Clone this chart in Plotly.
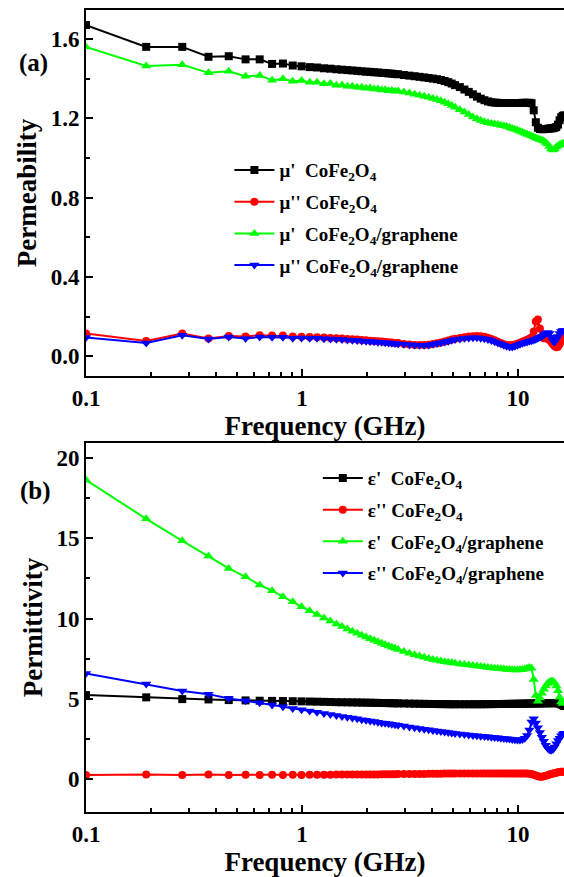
import plotly.graph_objects as go

# Frequency points (GHz)
freq = [0.1, 0.19, 0.279, 0.369, 0.458, 0.548, 0.637, 0.727, 0.816, 0.906, 0.995,
        1.085, 1.174, 1.264, 1.353, 1.443, 1.532, 1.622, 1.711, 1.801, 1.89, 1.98,
        2.069, 2.159, 2.248, 2.338, 2.427, 2.517, 2.606, 2.696, 2.785,
        2.964, 3.143, 3.322, 3.501, 3.68, 3.859, 4.038, 4.217, 4.396, 4.575, 4.754, 4.933, 5.112,
        5.381, 5.649, 5.918, 6.186, 6.455, 6.723, 6.992, 7.26, 7.529, 7.797, 8.066, 8.334,
        8.603, 8.871, 9.14, 9.408, 9.677, 9.945, 10.214, 10.482, 10.751, 11.019, 11.288,
        11.556, 11.825, 12.093, 12.362, 12.63, 12.899, 13.167, 13.436, 13.704, 13.973,
        14.241, 14.51, 14.778, 15.047, 15.315, 15.584, 15.852, 16.121, 16.389]

# (a) permeability
mu1_cfo = [1.67, 1.56, 1.56, 1.51, 1.513, 1.497, 1.497, 1.474, 1.476, 1.466, 1.462,
           1.458, 1.456, 1.452, 1.450, 1.447, 1.445, 1.443, 1.441, 1.439, 1.437, 1.435,
           1.434, 1.432, 1.431, 1.429, 1.428, 1.426, 1.425, 1.423, 1.422,
           1.418, 1.415, 1.412, 1.409, 1.406, 1.403, 1.400, 1.397, 1.393, 1.388, 1.382, 1.375, 1.367,
           1.357, 1.345, 1.333, 1.321, 1.309, 1.299, 1.291, 1.285, 1.281, 1.279, 1.278, 1.277,
           1.277, 1.277, 1.277, 1.277, 1.277, 1.277, 1.277, 1.278, 1.278, 1.278, 1.278,
           1.276, 1.24, 1.18, 1.152, 1.146, 1.145, 1.145, 1.146, 1.147, 1.148,
           1.149, 1.15, 1.152, 1.156, 1.168, 1.19, 1.205, 1.212, 1.215]
mu2_cfo = [0.114, 0.077, 0.114, 0.089, 0.102, 0.100, 0.106, 0.105, 0.104, 0.100, 0.098,
           0.097, 0.095, 0.094, 0.092, 0.090, 0.089, 0.087, 0.085, 0.084, 0.082, 0.080,
           0.078, 0.077, 0.075, 0.074, 0.072, 0.070, 0.069, 0.067, 0.066,
           0.062, 0.059, 0.057, 0.056, 0.056, 0.058, 0.061, 0.065, 0.069, 0.074, 0.079, 0.084, 0.088,
           0.092, 0.096, 0.099, 0.101, 0.102, 0.101, 0.098, 0.093, 0.087, 0.080, 0.073, 0.066,
           0.060, 0.056, 0.055, 0.056, 0.059, 0.063, 0.068, 0.073, 0.078, 0.083, 0.088,
           0.095, 0.125, 0.175, 0.185, 0.14, 0.10, 0.09, 0.09, 0.088, 0.082,
           0.072, 0.06, 0.05, 0.045, 0.048, 0.06, 0.075, 0.088, 0.095]
mu1_g = [1.56, 1.464, 1.47, 1.429, 1.437, 1.412, 1.416, 1.392, 1.399, 1.387, 1.39,
         1.381, 1.382, 1.374, 1.375, 1.367, 1.368, 1.361, 1.362, 1.356, 1.357, 1.351,
         1.352, 1.347, 1.348, 1.343, 1.344, 1.339, 1.340, 1.336, 1.337,
         1.332, 1.327, 1.321, 1.316, 1.311, 1.306, 1.300, 1.294, 1.288, 1.281, 1.273, 1.264, 1.255,
         1.243, 1.231, 1.219, 1.207, 1.197, 1.189, 1.183, 1.178, 1.174, 1.171, 1.168, 1.165,
         1.162, 1.158, 1.154, 1.149, 1.144, 1.139, 1.134, 1.129, 1.124, 1.119, 1.115,
         1.111, 1.106, 1.101, 1.097, 1.093, 1.089, 1.085, 1.078, 1.07, 1.058,
         1.045, 1.04, 1.045, 1.055, 1.062, 1.066, 1.07, 1.073, 1.075]
mu2_g = [0.094, 0.067, 0.106, 0.087, 0.097, 0.089, 0.097, 0.095, 0.095, 0.090, 0.092,
         0.091, 0.090, 0.088, 0.087, 0.085, 0.084, 0.082, 0.080, 0.079, 0.077, 0.076,
         0.074, 0.073, 0.071, 0.070, 0.068, 0.067, 0.065, 0.064, 0.062,
         0.060, 0.058, 0.056, 0.055, 0.055, 0.057, 0.060, 0.064, 0.068, 0.072, 0.076, 0.080, 0.084,
         0.087, 0.090, 0.092, 0.093, 0.093, 0.091, 0.088, 0.084, 0.079, 0.073, 0.067, 0.061,
         0.055, 0.050, 0.047, 0.047, 0.050, 0.055, 0.060, 0.065, 0.069, 0.072, 0.075,
         0.078, 0.082, 0.086, 0.090, 0.095, 0.10, 0.108, 0.115, 0.12, 0.115,
         0.095, 0.078, 0.072, 0.085, 0.10, 0.115, 0.125, 0.13, 0.13]

# (b) permittivity
eps1_cfo = [5.23, 5.09, 4.98, 4.96, 4.92, 4.90, 4.88, 4.87, 4.86, 4.85, 4.84,
            4.83, 4.82, 4.81, 4.80, 4.79, 4.785, 4.78, 4.775, 4.77, 4.765, 4.76,
            4.755, 4.75, 4.745, 4.74, 4.735, 4.73, 4.725, 4.72, 4.715,
            4.71, 4.70, 4.695, 4.69, 4.685, 4.68, 4.675, 4.67, 4.67, 4.665, 4.665, 4.66, 4.66,
            4.66, 4.66, 4.66, 4.66, 4.66, 4.66, 4.665, 4.665, 4.67, 4.67, 4.675, 4.675,
            4.68, 4.68, 4.685, 4.685, 4.69, 4.69, 4.695, 4.695, 4.70, 4.70, 4.705,
            4.705, 4.71, 4.71, 4.715, 4.715, 4.72, 4.72, 4.72, 4.725, 4.725,
            4.73, 4.73, 4.73, 4.73, 4.72, 4.70, 4.65, 4.60, 4.55]
eps2_cfo = [0.25, 0.29, 0.25, 0.29, 0.26, 0.27, 0.26, 0.27, 0.26, 0.27, 0.26,
            0.27, 0.27, 0.27, 0.27, 0.28, 0.28, 0.28, 0.28, 0.28, 0.29, 0.29,
            0.29, 0.29, 0.29, 0.30, 0.30, 0.30, 0.30, 0.30, 0.31,
            0.31, 0.31, 0.32, 0.32, 0.32, 0.33, 0.33, 0.33, 0.33, 0.34, 0.34, 0.34, 0.34,
            0.34, 0.35, 0.35, 0.35, 0.35, 0.35, 0.35, 0.35, 0.35, 0.35, 0.35, 0.35,
            0.35, 0.35, 0.35, 0.35, 0.35, 0.35, 0.35, 0.35, 0.35, 0.34, 0.33,
            0.31, 0.27, 0.22, 0.17, 0.15, 0.15, 0.17, 0.20, 0.24, 0.28,
            0.31, 0.34, 0.37, 0.40, 0.42, 0.44, 0.45, 0.45, 0.45]
eps1_g = [18.62, 16.21, 14.84, 13.89, 13.12, 12.6, 12.08, 11.73, 11.35, 11.04, 10.73,
          10.48, 10.25, 10.03, 9.84, 9.66, 9.5, 9.35, 9.21, 9.08, 8.96, 8.85,
          8.74, 8.64, 8.55, 8.46, 8.37, 8.29, 8.21, 8.14, 8.07,
          7.95, 7.84, 7.74, 7.66, 7.58, 7.51, 7.45, 7.40, 7.35, 7.31, 7.27, 7.24, 7.21,
          7.17, 7.13, 7.10, 7.07, 7.04, 7.01, 6.98, 6.95, 6.93, 6.91, 6.89, 6.87,
          6.85, 6.83, 6.82, 6.81, 6.80, 6.80, 6.81, 6.83, 6.86, 6.90, 6.95,
          6.9, 6.2, 5.2, 4.85, 5.05, 5.35, 5.6, 5.8, 5.95, 6.05,
          6.1, 6.1, 6.0, 5.8, 5.5, 5.1, 4.8, 4.7, 4.75]
eps2_g = [6.58, 5.92, 5.48, 5.29, 5.02, 4.88, 4.75, 4.61, 4.5, 4.4, 4.32,
          4.24, 4.16, 4.09, 4.02, 3.96, 3.9, 3.85, 3.8, 3.75, 3.7, 3.66,
          3.62, 3.58, 3.54, 3.5, 3.47, 3.44, 3.41, 3.38, 3.35,
          3.30, 3.25, 3.20, 3.15, 3.11, 3.07, 3.03, 2.99, 2.96, 2.93, 2.90, 2.87, 2.84,
          2.81, 2.78, 2.75, 2.72, 2.70, 2.67, 2.65, 2.63, 2.61, 2.59, 2.57, 2.55,
          2.53, 2.51, 2.49, 2.47, 2.45, 2.44, 2.44, 2.47, 2.55, 2.72, 3.05,
          3.55, 3.75, 3.5, 3.2, 2.9, 2.6, 2.35, 2.1, 1.92, 1.82,
          1.8, 1.85, 2.0, 2.2, 2.4, 2.55, 2.7, 2.8, 2.85]

SUB = "CoFe<sub>2</sub>O<sub>4</sub>"
names_a = ["μ'\u00a0\u00a0" + SUB, "μ''\u00a0" + SUB,
           "μ'\u00a0\u00a0" + SUB + "/graphene", "μ''\u00a0" + SUB + "/graphene"]
names_b = ["ε'\u00a0\u00a0" + SUB, "ε''\u00a0" + SUB,
           "ε'\u00a0\u00a0" + SUB + "/graphene", "ε''\u00a0" + SUB + "/graphene"]
colors = ["#000000", "#FF0000", "#00FF00", "#0000FF"]
symbols = ["square", "circle", "triangle-up", "triangle-down"]
sizes = [8, 8, 9, 9]

fig = go.Figure()
for i, ys in enumerate([mu1_cfo, mu2_cfo, mu1_g, mu2_g]):
    fig.add_trace(go.Scatter(x=freq, y=ys, name=names_a[i], mode="lines+markers",
                             line=dict(color=colors[i], width=2),
                             marker=dict(symbol=symbols[i], size=sizes[i], color=colors[i]),
                             xaxis="x", yaxis="y", legend="legend", legendgroup="a%d" % i))
for i, ys in enumerate([eps1_cfo, eps2_cfo, eps1_g, eps2_g]):
    fig.add_trace(go.Scatter(x=freq, y=ys, name=names_b[i], mode="lines+markers",
                             line=dict(color=colors[i], width=2),
                             marker=dict(symbol=symbols[i], size=sizes[i], color=colors[i]),
                             xaxis="x2", yaxis="y2", legend="legend2", legendgroup="b%d" % i))

FONT = "Liberation Serif, Times New Roman, Times, serif"
minor_x = [0.2, 0.3, 0.4, 0.5, 0.6, 0.7, 0.8, 0.9, 2, 3, 4, 5, 6, 7, 8, 9]
xcommon = dict(type="log", range=[-1, 1.213], showline=True, linewidth=2, linecolor="black",
               mirror=True, ticks="inside", ticklen=7, tickwidth=2, tickcolor="black",
               tickmode="array", tickvals=[0.1, 1, 10], ticktext=["0.1", "1", "10"],
               minor=dict(tickmode="array", tickvals=minor_x, ticks="inside", ticklen=4,
                          tickwidth=1.5, tickcolor="black"),
               showgrid=False, zeroline=False,
               tickfont=dict(size=23, family=FONT, color="black", weight="bold"),
               title=dict(text="Frequency (GHz)", standoff=4,
                          font=dict(size=27, family=FONT, color="black", weight="bold")))
ycommon = dict(showline=True, linewidth=2, linecolor="black", mirror=False,
               ticks="inside", ticklen=7, tickwidth=2, tickcolor="black",
               showgrid=False, zeroline=False,
               tickfont=dict(size=23, family=FONT, color="black", weight="bold"))

fig.update_layout(
    width=564, height=877,
    margin=dict(l=86, r=0, t=10, b=65),
    paper_bgcolor="white", plot_bgcolor="white",
    font=dict(family=FONT, color="black", weight="bold"),
    xaxis=dict(xcommon, anchor="y", domain=[0, 1]),
    xaxis2=dict(xcommon, anchor="y2", domain=[0, 1]),
    yaxis=dict(ycommon, domain=[0.5436, 1], range=[-0.1, 1.746], anchor="x",
               tickmode="array", tickvals=[0, 0.4, 0.8, 1.2, 1.6],
               ticktext=["0.0", "0.4", "0.8", "1.2", "1.6"],
               minor=dict(tickmode="array", tickvals=[0.2, 0.6, 1.0, 1.4], ticks="inside",
                          ticklen=4, tickwidth=1.5, tickcolor="black"),
               title=dict(text="Permeability", standoff=6,
                          font=dict(size=27, family=FONT, color="black", weight="bold"))),
    yaxis2=dict(ycommon, domain=[0, 0.4601], range=[-2.05, 20.93], anchor="x2",
                tickmode="array", tickvals=[0, 5, 10, 15, 20],
                ticktext=["0", "5", "10", "15", "20"],
                minor=dict(tickmode="array", tickvals=[2.5, 7.5, 12.5, 17.5], ticks="inside",
                           ticklen=4, tickwidth=1.5, tickcolor="black"),
                title=dict(text="Permittivity", standoff=6,
                           font=dict(size=27, family=FONT, color="black", weight="bold"))),
    legend=dict(x=0.30, y=0.824, xanchor="left", yanchor="top", bgcolor="rgba(0,0,0,0)",
                font=dict(size=19, family=FONT, color="black", weight="bold"),
                tracegroupgap=4, itemwidth=40),
    legend2=dict(x=0.485, y=0.44, xanchor="left", yanchor="top", bgcolor="rgba(0,0,0,0)",
                 font=dict(size=19, family=FONT, color="black", weight="bold"),
                 tracegroupgap=4, itemwidth=40),
    annotations=[
        dict(text="(a)", x=-0.109, y=0.934, xref="paper", yref="paper", showarrow=False,
             xanchor="center", yanchor="middle",
             font=dict(size=25, family=FONT, color="black", weight="bold")),
        dict(text="(b)", x=-0.105, y=0.40, xref="paper", yref="paper", showarrow=False,
             xanchor="center", yanchor="middle",
             font=dict(size=25, family=FONT, color="black", weight="bold")),
    ],
)

fig.write_html("out.html")
